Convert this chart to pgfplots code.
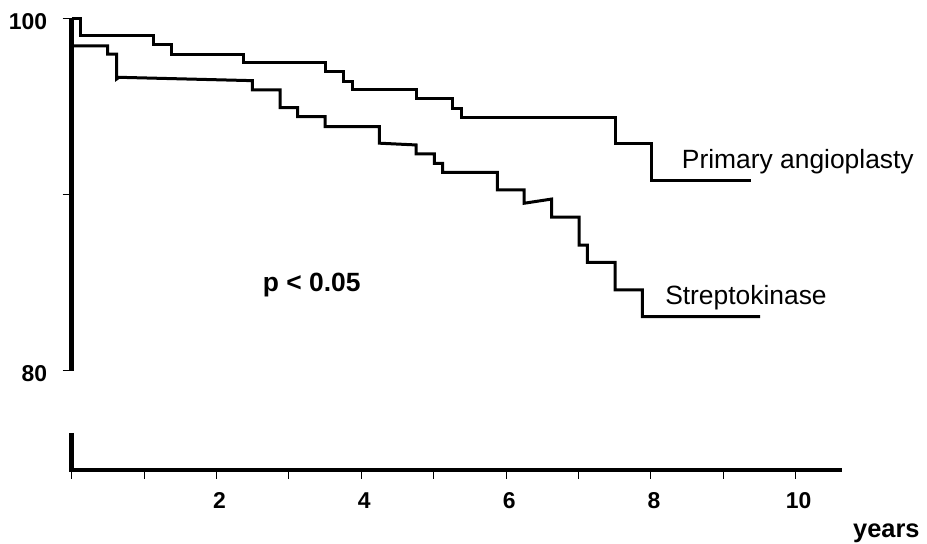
\documentclass[border=0pt]{standalone}
\usepackage{fontspec}
\setmainfont{Liberation Sans}
\usepackage{pgfplots}
\pgfplotsset{compat=1.18}
\begin{document}
\begin{tikzpicture}[x=1bp,y=1bp]
\useasboundingbox (0,0) rectangle (927,544);
\begin{axis}[
 at={(71.7bp,74bp)}, anchor=south west,
 scale only axis, width=770bp, height=451.7bp,
 xmin=0, xmax=10.635, ymin=74.36, ymax=100,
 axis x line=bottom, axis y line=left,
 x axis line style={-, line width=4bp},
 y axis line style={draw=none},
 xtick={2,4,6,8,10}, minor xtick={0,1,3,5,7,9},
 ytick={80,100}, minor ytick={90},
 tick align=outside, major tick length=9bp, minor tick length=9bp,
 every tick/.style={black, line width=1bp},
 every minor tick/.style={black, line width=1bp},
 /pgf/number format/assume math mode=true,
 tick label style={font=\fontsize{23}{27}\selectfont\bfseries},
 xticklabel style={xshift=3bp, yshift=-10bp},
 yticklabel style={yshift=-3bp, xshift=-12bp},
 clip=false,
]
\draw[line width=4.5bp] (axis cs:0,80) -- (axis cs:0,100);
\draw[line width=4.5bp] (axis cs:0,76.47) -- ([yshift=-2bp]axis cs:0,74.36);

% Primary angioplasty
\addplot[const plot, black, line width=3bp] coordinates {
(0,100) (0.115,99.05) (1.127,98.52) (1.381,97.97) (2.370,97.48)
(3.499,96.97) (3.751,96.44) (3.876,95.93) (4.756,95.42) (5.257,94.89)
(5.387,94.38) (7.504,92.91) (8.001,90.82) (9.383,90.82)
};
% Streptokinase
\addplot[black, line width=3bp] coordinates {
(0,98.43) (0.497,98.43) (0.497,97.97) (0.622,97.97) (0.622,96.56)
(0.653,96.65) (2.494,96.46) (2.494,95.93) (2.877,95.93) (2.877,94.93)
(3.122,94.93) (3.122,94.42) (3.499,94.42) (3.499,93.85) (4.249,93.85)
(4.249,92.91) (4.756,92.81) (4.756,92.30) (5.008,92.30) (5.008,91.77)
(5.124,91.77) (5.124,91.26) (5.878,91.26) (5.878,90.26) (6.247,90.26)
(6.247,89.50) (6.630,89.74) (6.630,88.71) (7.007,88.71) (7.007,87.13)
(7.122,87.13) (7.122,86.15) (7.504,86.15) (7.504,84.58) (7.881,84.58)
(7.881,83.06) (9.507,83.06)
};

\node[anchor=base west, inner sep=0pt, font=\fontsize{26.5}{30}\selectfont] at (axis cs:8.425,91.49) {Primary angioplasty};
\node[anchor=base west, inner sep=0pt, font=\fontsize{26.5}{30}\selectfont] at (axis cs:8.195,83.73) {Streptokinase};
\node[anchor=base west, inner sep=0pt, font=\bfseries\fontsize{26.5}{30}\selectfont] at (axis cs:2.638,84.48) {p < 0.05};
\node[anchor=base west, inner sep=0pt, font=\bfseries\fontsize{25.5}{30}\selectfont] at (axis cs:10.79,70.55) {years};
\end{axis}
\end{tikzpicture}
\end{document}
